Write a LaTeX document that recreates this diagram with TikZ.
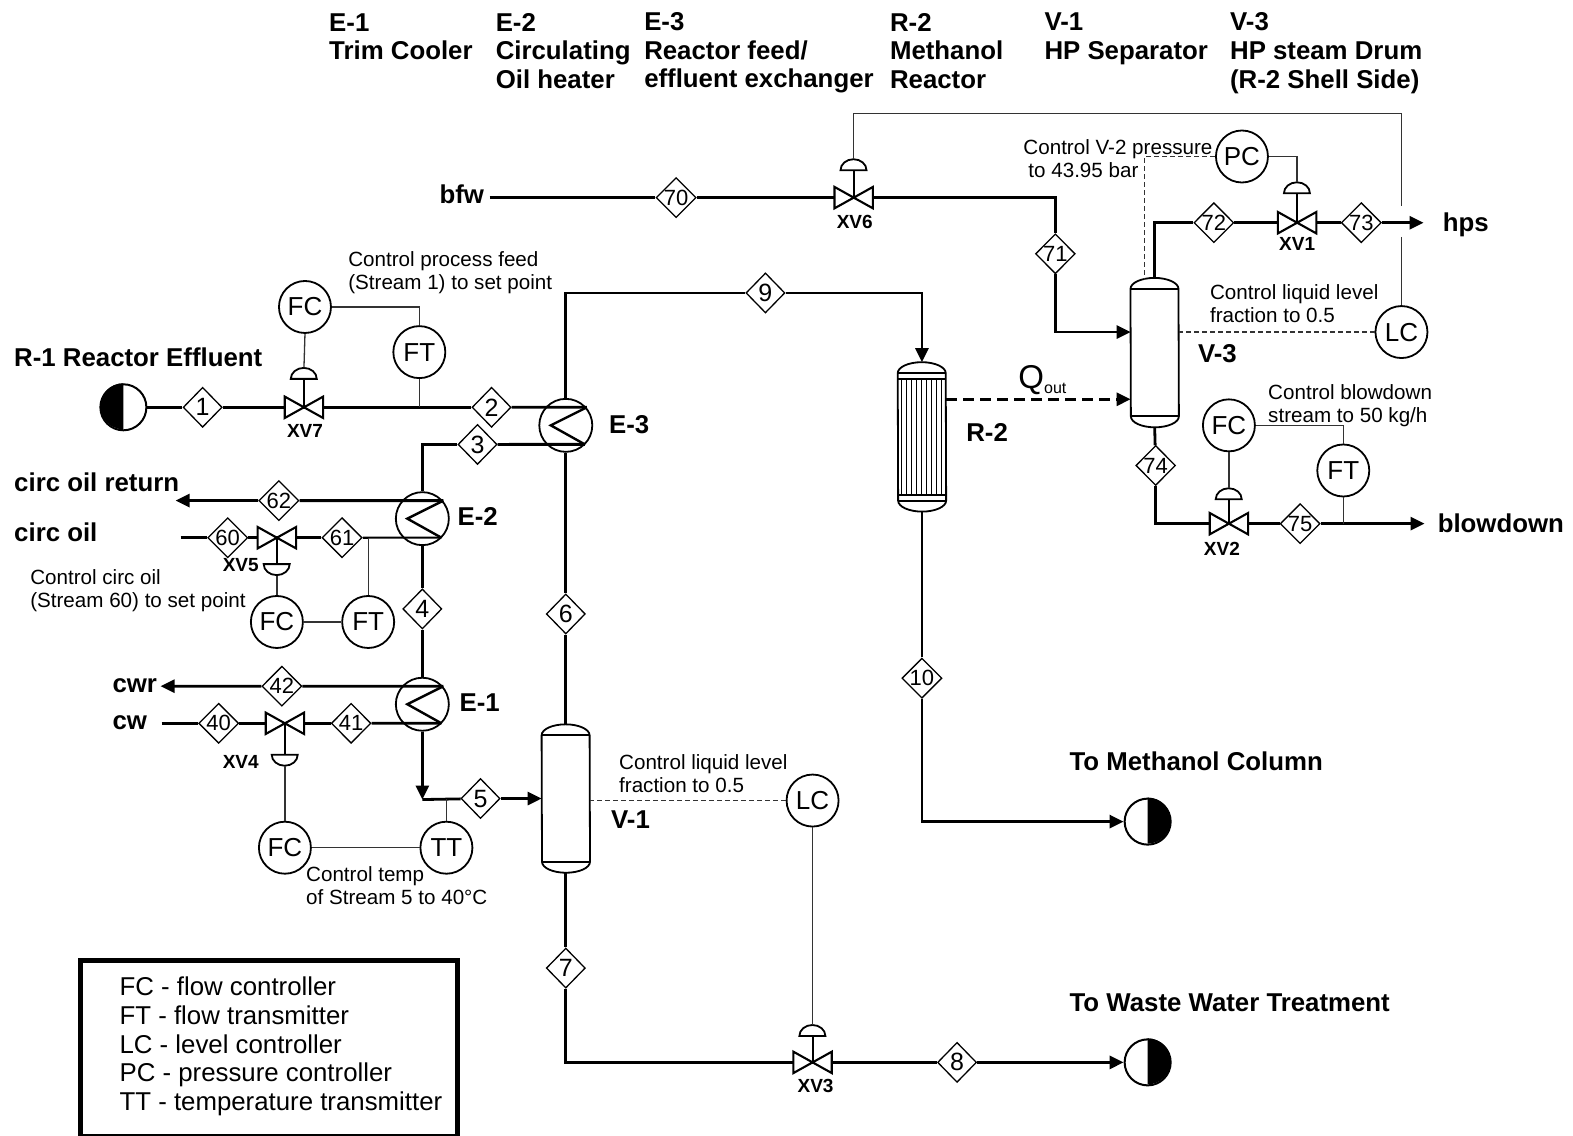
\documentclass[tikz,border=0pt]{standalone}
\usepackage{fontspec}
\setmainfont{Liberation Sans}
\usetikzlibrary{arrows.meta,positioning,calc,shapes.geometric}
\definecolor{ctrlgrey}{HTML}{333333}
\tikzset{
  stream/.style={line width=2.8pt},
  thinstream/.style={line width=2.1pt},
  ctrlline/.style={line width=1.3pt,draw=ctrlgrey},
  ctrldash/.style={line width=1.3pt,draw=ctrlgrey,dashed,dash pattern=on 5pt off 3pt},
  heatline/.style={line width=3pt,dash pattern=on 11pt off 6pt},
  flowtip/.style={-{Triangle[length=14pt,width=13pt]}},
  tag/.style={diamond,draw,line width=1.3pt,fill=white,inner sep=0pt,minimum width=39pt,minimum height=40pt,font=\fontsize{22}{22}\selectfont},
  bigdigit/.style={tag,inner sep=-1pt,font=\fontsize{25}{25}\selectfont},
  instr/.style={circle,draw,line width=1.8pt,fill=white,inner sep=0pt,minimum size=52pt,font=\fontsize{26}{26}\selectfont},
  exch/.style={circle,draw,line width=1.8pt,fill=white,inner sep=0pt,minimum size=53pt},
  term/.style={circle,draw,line width=2pt,fill=white,inner sep=0pt,minimum size=46pt},
  valvebox/.style={inner sep=0pt,minimum width=38pt,minimum height=21pt},
  domebox/.style={inner sep=0pt,minimum width=26pt,minimum height=11pt},
  vesselbox/.style={inner sep=0pt,minimum width=48pt},
  vline/.style={line width=1.8pt},
  bigtag/.style={font=\bfseries\fontsize{25.8}{28.5}\selectfont,align=left,anchor=west,inner sep=0pt},
  xvtag/.style={font=\bfseries\fontsize{19}{19}\selectfont,inner sep=0pt},
  note/.style={font=\fontsize{20.6}{23}\selectfont,align=left,anchor=west,inner sep=0pt}
}
\newcommand{\valvenode}[3]{%
  \node[valvebox] (#1) at (#2,#3) {};
  \draw[line width=2.1pt,fill=white] (#1.north west) -- (#1.south east) -- (#1.north east) -- (#1.south west) -- cycle;}
\newcommand{\domeup}[3]{%
  \node[domebox] (#1) at (#2,#3) {};
  \draw[vline] (#1.south west) arc[start angle=180,end angle=0,x radius=13pt,y radius=11pt] -- cycle;}
\newcommand{\domedown}[3]{%
  \node[domebox] (#1) at (#2,#3) {};
  \draw[vline] (#1.north west) arc[start angle=-180,end angle=0,x radius=13pt,y radius=11pt] -- cycle;}
\newcommand{\exchnode}[3]{%
  \node[exch] (#1) at (#2,#3) {};
  \coordinate (#1a) at ($(#1)+(21pt,18pt)$);
  \coordinate (#1b) at ($(#1)+(19pt,-19pt)$);}
\newcommand{\coil}[1]{\draw[line width=2.4pt,line join=miter] (#1a) -- ($(#1)+(-15pt,0pt)$) -- (#1b);}
\newcommand{\vesselnode}[4]{%
  \node[vesselbox,minimum height=#4 pt] (#1) at (#2,#3) {};
  \draw[vline,fill=white] ($(#1.north west)+(0pt,-11pt)$) arc[start angle=180,end angle=0,x radius=24pt,y radius=11pt]
    -- ($(#1.south east)+(0pt,11pt)$) arc[start angle=0,end angle=-180,x radius=24pt,y radius=11pt] -- cycle;
  \draw[vline] ($(#1.north west)+(0pt,-11pt)$) -- ($(#1.north east)+(0pt,-11pt)$);
  \draw[vline] ($(#1.south west)+(0pt,11pt)$) -- ($(#1.south east)+(0pt,11pt)$);}
\begin{document}
\begin{tikzpicture}[x=1.003pt,y=-1.003pt]
  \useasboundingbox (0,0) rectangle (1568,1132);

  \node[bigtag] (hdre1) at (328,36.5) {E-1\\Trim Cooler};
  \node[bigtag] (hdre2) at (494,50.5) {E-2\\Circulating\\Oil heater};
  \node[bigtag] (hdre3) at (642,53) {E-3\\Reactor feed/\\effluent exchanger};
  \node[bigtag] (hdrr2) at (887,50.5) {R-2\\Methanol\\Reactor};
  \node[bigtag] (hdrv1) at (1041,38.5) {V-1\\HP Separator};
  \node[bigtag] (hdrv3) at (1226,53) {V-3\\HP steam Drum\\(R-2 Shell Side)};

  \node[term] (src1) at (123,406) {};
  \fill (src1.north) arc[start angle=90,end angle=270,radius=23pt] -- cycle;
  \node[term] (snk10) at (1144,819) {};
  \fill (snk10.north) arc[start angle=90,end angle=-90,radius=23pt] -- cycle;
  \node[term] (snk8) at (1144,1059) {};
  \fill (snk8.north) arc[start angle=90,end angle=-90,radius=23pt] -- cycle;

  \exchnode{e3}{564}{424}
  \exchnode{e2}{421}{517}
  \exchnode{e1}{421}{702}
  \vesselnode{v1}{564}{796}{148}
  \vesselnode{v3}{1151}{351.5}{149}
  \vesselnode{r2}{919}{435.5}{149}
  \foreach \tx in {-20,-15,-10,-5,0,5,10,15,20}
    \draw[line width=1.1pt] ($(r2.north)+(\tx pt,-17pt)$) -- ($(r2.south)+(\tx pt,17pt)$);
  \draw[vline] ($(r2.north west)+(0pt,-17pt)$) -- ($(r2.north east)+(0pt,-17pt)$);
  \draw[vline] ($(r2.south west)+(0pt,17pt)$) -- ($(r2.south east)+(0pt,17pt)$);

  \node[bigdigit] (tag1) at (202,406) {1};
  \node[bigdigit] (tag2) at (490,406) {2};
  \node[bigdigit] (tag3) at (476,443) {3};
  \node[bigdigit] (tag4) at (421,607) {4};
  \node[bigdigit] (tag5) at (479,796) {5};
  \node[bigdigit] (tag6) at (564,612) {6};
  \node[bigdigit] (tag7) at (564,965) {7};
  \node[bigdigit] (tag8) at (954,1059) {8};
  \node[bigdigit] (tag9) at (763,292) {9};
  \node[tag] (tag10) at (919,676) {10};
  \node[tag] (tag40) at (218,721) {40};
  \node[tag] (tag41) at (350,721) {41};
  \node[tag] (tag42) at (281,684) {42};
  \node[tag] (tag60) at (227,536) {60};
  \node[tag] (tag61) at (341,536) {61};
  \node[tag] (tag62) at (278,499) {62};
  \node[tag] (tag70) at (674,197) {70};
  \node[tag] (tag71) at (1052,253) {71};
  \node[tag] (tag72) at (1210,222) {72};
  \node[tag] (tag73) at (1357,222) {73};
  \node[tag] (tag74) at (1152,464) {74};
  \node[tag] (tag75) at (1296,522) {75};

  \node[instr] (fc7) at (304,306) {FC};
  \node[instr] (ft7) at (418,351) {FT};
  \node[instr] (fc5) at (276,620) {FC};
  \node[instr] (ft5) at (367,620) {FT};
  \node[instr] (fc4) at (284,845) {FC};
  \node[instr] (tt4) at (445,845) {TT};
  \node[instr] (lc3) at (810,798) {LC};
  \node[instr] (pc1) at (1238,156) {PC};
  \node[instr] (lc6) at (1397,331) {LC};
  \node[instr] (fc2) at (1225,424) {FC};
  \node[instr] (ft2) at (1339,469) {FT};

  \coordinate (bfwin) at (488,197);
  \coordinate (oilin) at (180,536);
  \coordinate (oilout) at (175,499);
  \coordinate (cwin) at (161,721);
  \coordinate (cwrout) at (160,684);
  \coordinate (mix5) at (421,797);
  \coordinate (v3feed) at (1127,331);
  \coordinate (v3heat) at (1127,398);
  \coordinate (hpsout) at (1419,222);
  \coordinate (bdout) at (1420,522);
  \coordinate (pctap) at (1141,279);
  \coordinate (lctop) at (1397,113);
  \coordinate (lcgapa) at (1397,205);
  \coordinate (lcgapb) at (1397,236);

  \draw[stream] (src1) -- (tag1);
  \draw[stream] (tag1) -- (tag2);
  \draw[stream] (tag2) -- (e3a);
  \draw[stream] (e3b) -- (tag3);
  \draw[stream] (tag3) -| (e2.north);
  \draw[stream] (e3.north) |- (tag9);
  \draw[stream,flowtip] (tag9) -| (r2.north);
  \draw[stream] (e3.south) -- (tag6);
  \draw[stream] (tag6) -- (v1.north);
  \draw[stream] (e2.south) -- (tag4);
  \draw[stream] (tag4) -- (e1.north);
  \draw[stream,flowtip] (e1.south) -- (mix5);
  \draw[stream] (mix5) -- (tag5);
  \draw[stream,flowtip] (tag5) -- (tag5 -| v1.west);
  \draw[stream] (v1.south) -- (tag7);
  \draw[stream] (tag7) |- (tag8);
  \draw[stream,flowtip] (tag8) -- (snk8);
  \draw[stream] (r2.south) -- (tag10);
  \draw[stream,flowtip] (tag10) |- (snk10);
  \draw[stream,flowtip] (e2a) -- (tag62) -- (oilout);
  \draw[stream] (oilin) -- (tag60);
  \draw[stream] (tag60) -- (tag61);
  \draw[thinstream] (tag61) -- (e2b);
  \draw[stream,flowtip] (e1a) -- (tag42) -- (cwrout);
  \draw[stream] (cwin) -- (tag40);
  \draw[stream] (tag40) -- (tag41);
  \draw[stream] (tag41) -- (e1b);
  \draw[stream] (bfwin) -- (tag70);
  \draw[stream] (tag70) -| (tag71);
  \draw[stream,flowtip] (tag71) |- (v3feed);
  \draw[stream] (v3.north) |- (tag72);
  \draw[stream] (tag72) -- (tag73);
  \draw[stream,flowtip] (tag73) -- (hpsout);
  \draw[stream] (v3.south) -- (tag74);
  \draw[stream] (tag74) |- (tag75);
  \draw[stream,flowtip] (tag75) -- (bdout);
  \draw[heatline,flowtip] (v3heat -| r2.east) -- (v3heat);

  \coil{e3}
  \coil{e2}
  \coil{e1}

  \valvenode{xv7}{303}{406}
  \valvenode{xv5}{276}{536}
  \valvenode{xv4}{284}{721}
  \valvenode{xv6}{851}{197}
  \valvenode{xv1}{1293}{222}
  \valvenode{xv2}{1225}{522}
  \valvenode{xv3}{810}{1059}
  \domeup{act7}{303}{372}
  \domedown{act5}{276}{568}
  \domedown{act4}{284}{758}
  \domeup{act6}{851}{164}
  \domeup{act1}{1293}{187}
  \domeup{act2}{1225}{492}
  \domeup{act3}{810}{1027}
  \foreach \vname/\aname in {xv7/act7,xv5/act5,xv4/act4,xv6/act6,xv1/act1,xv2/act2,xv3/act3}
    \draw[line width=2.1pt] (\aname) -- (\vname.center);

  \draw[ctrlline] (fc7.south) -- (act7.north);
  \draw[ctrlline] (fc7.east) -| (ft7.north);
  \draw[ctrlline] (ft7.south) -- (ft7.south |- tag1);
  \draw[ctrlline] (fc5.north) -- (act5.south);
  \draw[ctrlline] (fc5.east) -- (ft5.west);
  \draw[ctrlline] (ft5.north) -- (ft5.north |- tag61);
  \draw[ctrlline] (fc4.north) -- (act4.south);
  \draw[ctrlline] (fc4.east) -- (tt4.west);
  \draw[ctrlline] (tt4.north) -- (tt4.north |- tag5);
  \draw[ctrldash] (lc3.west) -- (lc3.west -| v1.east);
  \draw[ctrlline] (lc3.south) -- (act3.north);
  \draw[ctrlline] (act6.north) |- (lctop) -- (lcgapa);
  \draw[ctrlline] (lcgapb) -- (lc6.north);
  \draw[ctrldash] (lc6.west) -- (v3.east |- lc6.west);
  \draw[ctrldash] (pc1.west) -| (pctap);
  \draw[ctrlline] (pc1.east) -| (act1.north);
  \draw[ctrlline] (fc2.south) -- (act2.north);
  \draw[ctrlline] (fc2.east) -| (ft2.north);
  \draw[ctrlline] (ft2.south) -- (ft2.south |- tag75);

  \node[xvtag] (xv7tag) at (304,430) {XV7};
  \node[xvtag] (xv5tag) at (240,563) {XV5};
  \node[xvtag] (xv4tag) at (240,760) {XV4};
  \node[xvtag] (xv6tag) at (852,221) {XV6};
  \node[xvtag] (xv1tag) at (1293,243) {XV1};
  \node[xvtag] (xv2tag) at (1218,547) {XV2};
  \node[xvtag] (xv3tag) at (813,1083) {XV3};

  \node[bigtag] (r1tag) at (14,356) {R-1 Reactor Effluent};
  \node[bigtag] (oilrtag) at (14,481) {circ oil return};
  \node[bigtag] (oiltag) at (14,531) {circ oil};
  \node[bigtag] (cwrtag) at (112,683) {cwr};
  \node[bigtag] (cwtag) at (112,720) {cw};
  \node[bigtag] (bfwtag) at (438,194) {bfw};
  \node[bigtag] (hpstag) at (1438,224) {hps};
  \node[bigtag] (bdtag) at (1433,522) {blowdown};
  \node[bigtag] (e3tag) at (607,423) {E-3};
  \node[bigtag] (e2tag) at (456,514.5) {E-2};
  \node[bigtag] (e1tag) at (458,700.5) {E-1};
  \node[bigtag] (v1tag) at (609,817.5) {V-1};
  \node[bigtag] (v3tag) at (1194,352.5) {V-3};
  \node[bigtag] (r2tag) at (963,431.5) {R-2};
  \node[bigtag] (methtag) at (1066,759) {To Methanol Column};
  \node[bigtag] (wastetag) at (1066,1000) {To Waste Water Treatment};
  \node[inner sep=0pt,anchor=west,font=\fontsize{33}{33}\selectfont] (qtag) at (1015,379) {Q\raisebox{-5pt}{\fontsize{16}{16}\selectfont out}};

  \node[note] (note7) at (347,272) {Control process feed\\(Stream 1) to set point};
  \node[note] (note5) at (30,589) {Control circ oil\\(Stream 60) to set point};
  \node[note] (note4) at (305,883) {Control temp\\of Stream 5 to 40°C};
  \node[note] (note3) at (617,771) {Control liquid level\\fraction to 0.5};
  \node[note] (note1) at (1020,158) {Control V-2 pressure\\\hspace*{5pt}to 43.95 bar};
  \node[note] (note6) at (1206,303) {Control liquid level\\fraction to 0.5};
  \node[note] (note2) at (1264,404) {Control blowdown\\stream to 50 kg/h};

  \node[draw,line width=5pt,minimum width=377pt,minimum height=176pt,inner sep=0pt] (legendbox) at (268.5,1045) {};
  \node[inner sep=0pt,anchor=west,align=left,font=\fontsize{25.8}{28.9}\selectfont] (legendtext) at (119,1043) {FC - flow controller\\FT - flow transmitter\\LC - level controller\\PC - pressure controller\\TT - temperature transmitter};
\end{tikzpicture}
\end{document}
